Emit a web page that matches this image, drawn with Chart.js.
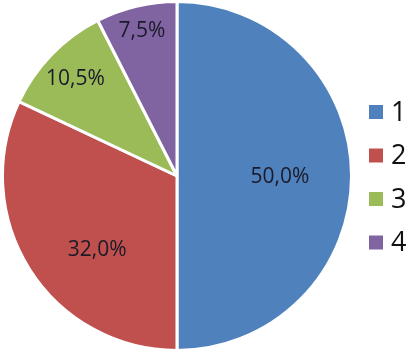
<!DOCTYPE html>
<html>
<head>
<meta charset="utf-8">
<script src="https://cdn.jsdelivr.net/npm/chart.js@4"></script>
<style>
  html, body { margin: 0; padding: 0; background: #fff; }
  #wrap { width: 408px; height: 352px; }
</style>
</head>
<body>
<div id="wrap"><canvas id="pie" width="408" height="352"></canvas></div>
<script>
const categories = ['1', '2', '3', '4'];
const shares = [50.0, 32.0, 10.5, 7.5];
const colors = ['#4F81BD', '#C0504D', '#9BBB59', '#8064A2'];

// where each label sits: fraction of radius, and a small angle nudge (deg)
const labelDist = [0.59, 0.62, 0.81, 0.86];
const labelNudge = [0, -10, 0, 0];

const fmt = v => v.toFixed(1).replace('.', ',') + '%';

const sliceLabels = {
    id: 'sliceLabels',
    afterDatasetsDraw(chart) {
        const ctx = chart.ctx;
        const meta = chart.getDatasetMeta(0);
        ctx.save();
        ctx.font = '21px "Open Sans", sans-serif';
        ctx.fillStyle = '#1a1a2a';
        ctx.textAlign = 'center';
        ctx.textBaseline = 'middle';
        meta.data.forEach((arc, i) => {
            const mid = (arc.startAngle + arc.endAngle) / 2 + labelNudge[i] * Math.PI / 180;
            const d = arc.outerRadius * labelDist[i];
            ctx.fillText(fmt(shares[i]), arc.x + Math.cos(mid) * d, arc.y + Math.sin(mid) * d + 1);
        });
        ctx.restore();
    }
};

// legend on the right, drawn by hand
const sideLegend = {
    id: 'sideLegend',
    afterDraw(chart) {
        const ctx = chart.ctx;
        ctx.save();
        ctx.font = '27px "Open Sans", sans-serif';
        ctx.textBaseline = 'middle';
        categories.forEach((c, i) => {
            const y = 112 + i * 43.5;
            ctx.fillStyle = colors[i];
            ctx.fillRect(369, y - 7, 14, 14);
            ctx.fillStyle = '#111';
            ctx.fillText(c, 391, y + 1);
        });
        ctx.restore();
    }
};

new Chart(document.getElementById('pie'), {
    type: 'pie',
    data: {
        labels: categories,
        datasets: [{
            data: shares,
            backgroundColor: colors,
            borderColor: '#fff',
            borderWidth: 3
        }]
    },
    options: {
        responsive: false,
        animation: false,
        layout: { padding: { left: 0, right: 54, top: 0, bottom: 0 } },
        plugins: {
            legend: { display: false },
            tooltip: { enabled: false }
        }
    },
    plugins: [sliceLabels, sideLegend]
});
</script>
</body>
</html>
